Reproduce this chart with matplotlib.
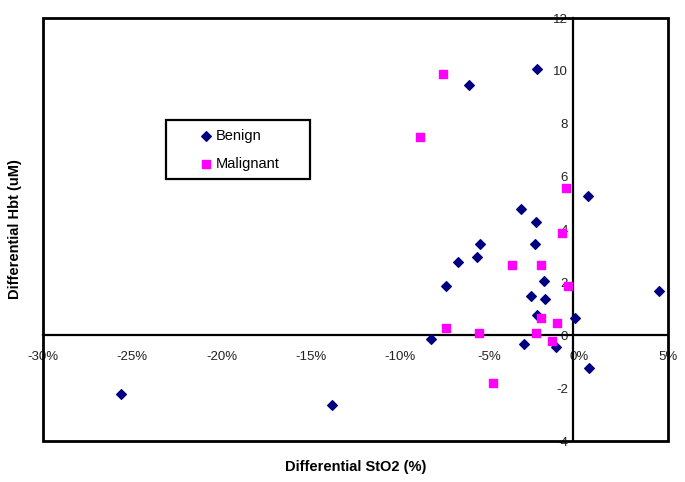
import matplotlib
matplotlib.use("Agg")
import matplotlib.pyplot as plt
from matplotlib.patches import Rectangle

plt.rcParams['font.family'] = ['Liberation Sans', 'DejaVu Sans']
plt.rcParams['axes.unicode_minus'] = False

# differential StO2 (%) and differential Hbt (uM)
benign_sto2 = [0.52, -3.24, -2.42, -5.51, -2.46, -5.69, -6.78, -7.43, -1.93, -2.70, -1.89,
               -2.34, -0.19, 4.51, -8.27, -3.07, -1.30, 0.60, -2.32, -6.16, -25.64, -13.82]
benign_hbt = [5.28, 4.77, 4.28, 3.47, 3.47, 2.97, 2.78, 1.87, 2.07, 1.48, 1.36,
              0.77, 0.67, 1.67, -0.14, -0.33, -0.44, -1.24, 10.08, 9.48, -2.23, -2.65]

malignant_sto2 = [-0.71, -0.92, -3.75, -2.10, -0.58, -2.12, -1.22, -7.41, -5.60, -2.40,
                  -1.50, -4.78, -7.62, -8.89]
malignant_hbt = [5.58, 3.88, 2.67, 2.67, 1.87, 0.67, 0.47, 0.28, 0.08, 0.08,
                 -0.23, -1.82, 9.89, 7.49]

x_ticks = [-30, -25, -20, -15, -10, -5, 0, 5]
y_ticks = [-4, -2, 0, 2, 4, 6, 8, 10, 12]

fig = plt.figure(figsize=(6.85, 4.82), dpi=100)
ax = fig.add_axes([0.0628, 0.085, 0.9124, 0.8776])

ax.scatter(benign_sto2, benign_hbt, marker='D', s=24, color='#000080', label='Benign', zorder=3)
ax.scatter(malignant_sto2, malignant_hbt, marker='s', s=30, color='#FF00FF', label='Malignant', zorder=3)

ax.set_xlim(-30, 5)
ax.set_ylim(-4, 12)

# axes cross near the origin, plot area has its own frame
ax.spines['left'].set_position(('data', -0.3))
ax.spines['bottom'].set_position(('data', 0))
ax.spines['right'].set_visible(False)
ax.spines['top'].set_visible(False)
for s in ['left', 'bottom']:
    ax.spines[s].set_linewidth(1.6)
ax.add_patch(Rectangle((0, 0), 1, 1, transform=ax.transAxes, fill=False,
                       lw=2, edgecolor='black', clip_on=False, zorder=4))

ax.set_xticks(x_ticks)
ax.set_xticklabels([f"{v}%" for v in x_ticks])
ax.set_yticks(y_ticks)
ax.set_yticklabels([str(v) for v in y_ticks])
ax.tick_params(axis='x', length=0, pad=11, labelsize=9.5, labelcolor='#222222')
ax.tick_params(axis='y', length=0, pad=4, labelsize=9.5, labelcolor='#222222')

ax.set_xlabel('Differential StO2 (%)', fontsize=10.5, fontweight='bold')
ax.set_ylabel('Differential Hbt (uM)', fontsize=10.5, fontweight='bold')
ax.xaxis.set_label_coords(0.5, -0.045)
ax.yaxis.set_label_coords(-0.033, 0.5)

leg = ax.legend(loc='upper left', bbox_to_anchor=(0.197, 0.62, 0.23, 0.139), mode='expand',
                borderaxespad=0, fancybox=False, framealpha=1, edgecolor='black',
                fontsize=10.5, handlelength=4.2, handletextpad=-1.4, labelspacing=0.95,
                borderpad=0.6)
leg.get_frame().set_linewidth(1.6)

fig.savefig('out.png', dpi=100)
